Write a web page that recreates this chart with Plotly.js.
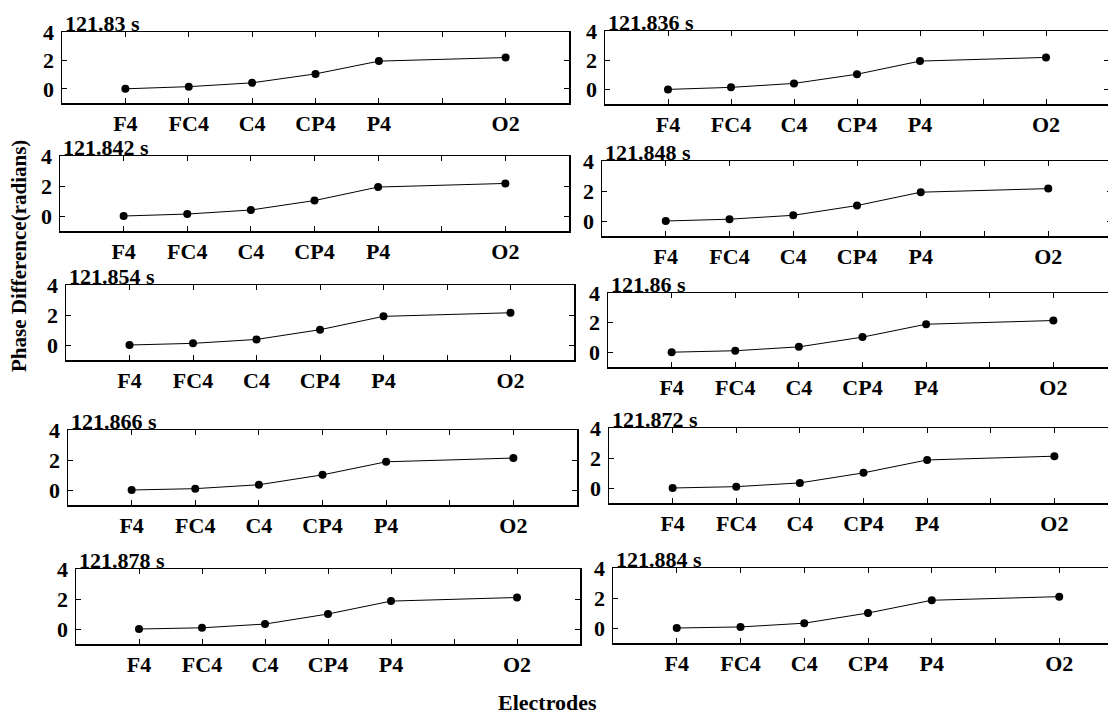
<!DOCTYPE html>
<html>
<head>
<meta charset="utf-8">
<script src="https://cdn.plot.ly/plotly-3.0.1.min.js"></script>
<style>
html,body{margin:0;padding:0;overflow:hidden;background:#fff;}
#chart{width:1130px;height:716px;}
</style>
</head>
<body>
<div id="chart"></div>
<script>
// ---- data ----
const electrodes = ["F4", "FC4", "C4", "CP4", "P4", "O2"];
const electrodePos = [1, 2, 3, 4, 5, 7];
const tickPositions = [1, 2, 3, 4, 5, 6, 7];
const tickLabels = ["F4", "FC4", "C4", "CP4", "P4", "", "O2"];
const yTickValues = [0, 2, 4];
const timeLabels = ["121.83 s", "121.836 s", "121.842 s", "121.848 s", "121.854 s",
                    "121.86 s", "121.866 s", "121.872 s", "121.878 s", "121.884 s"];
const phase_121830 = [0, 0.15, 0.42, 1.05, 1.95, 2.20];
const phase_121836 = [0, 0.14, 0.41, 1.04, 1.94, 2.19];
const phase_121842 = [0, 0.13, 0.40, 1.03, 1.93, 2.17];
const phase_121848 = [0, 0.12, 0.38, 1.03, 1.92, 2.16];
const phase_121854 = [0, 0.11, 0.37, 1.02, 1.91, 2.15];
const phase_121860 = [0, 0.10, 0.36, 1.02, 1.89, 2.14];
const phase_121866 = [0, 0.09, 0.35, 1.01, 1.88, 2.13];
const phase_121872 = [0, 0.09, 0.34, 1.01, 1.87, 2.12];
const phase_121878 = [0, 0.08, 0.33, 1.00, 1.86, 2.10];
const phase_121884 = [0, 0.07, 0.32, 1.00, 1.85, 2.09];
const series = [phase_121830, phase_121836, phase_121842, phase_121848, phase_121854,
                phase_121860, phase_121866, phase_121872, phase_121878, phase_121884];

// ---- layout (pixel boxes: left, right, top, bottom) ----
const W = 1130, H = 716;
const boxes = [
  [62, 569, 32, 103], [605, 1109, 31, 104],
  [60, 569, 156, 231], [602, 1112, 161, 236],
  [66, 574, 285, 360], [608, 1117, 293, 367],
  [68, 577, 430, 505], [609, 1118, 428, 503],
  [76, 580, 569, 644], [613, 1123, 568, 643]
];
const FONT = "Liberation Serif";

const traces = [];
const layout = {
  width: W, height: H,
  margin: {l: 0, r: 0, t: 0, b: 0},
  paper_bgcolor: "#fff", plot_bgcolor: "#fff",
  showlegend: false,
  font: {family: FONT, size: 22, color: "#000", weight: 700},
  annotations: []
};

series.forEach((vals, i) => {
  const n = i + 1;
  const xa = "x" + (n === 1 ? "" : n), ya = "y" + (n === 1 ? "" : n);
  traces.push({
    x: electrodePos, y: vals, text: electrodes, xaxis: xa, yaxis: ya,
    type: "scatter", mode: "lines+markers",
    line: {color: "#000", width: 1},
    marker: {color: "#000", size: 8},
    hoverinfo: "text+y"
  });
  const b = boxes[i];
  const axCommon = {
    showline: true, linecolor: "#000", linewidth: 1.5, mirror: "ticks",
    ticks: "inside", ticklen: 5, tickwidth: 1, tickcolor: "#000",
    showgrid: false, zeroline: false, fixedrange: true,
    tickfont: {family: FONT, size: 22, color: "#000", weight: 700}
  };
  layout["xaxis" + (n === 1 ? "" : n)] = Object.assign({}, axCommon, {
    domain: [b[0] / W, b[1] / W], anchor: ya,
    range: [0, 8], tickmode: "array", tickvals: tickPositions, ticktext: tickLabels,
    ticklabelstandoff: 0
  });
  layout["yaxis" + (n === 1 ? "" : n)] = Object.assign({}, axCommon, {
    domain: [1 - b[3] / H, 1 - b[2] / H], anchor: xa,
    range: [-1, 4], tickmode: "array", tickvals: yTickValues,
    ticktext: yTickValues.map(String), ticklabelstandoff: 2
  });
  layout.annotations.push({
    text: timeLabels[i], showarrow: false,
    xref: xa + " domain", yref: ya + " domain", x: 0, y: 1,
    xanchor: "left", yanchor: "bottom", xshift: 1, yshift: -6,
    font: {family: FONT, size: 22, color: "#000", weight: 700}
  });
});

layout.annotations.push({
  text: "Phase Difference(radians)", showarrow: false, textangle: -90,
  xref: "paper", yref: "paper", x: 19 / W, y: 1 - 256 / H,
  xanchor: "center", yanchor: "middle",
  font: {family: FONT, size: 21, color: "#000", weight: 700}
});
layout.annotations.push({
  text: "Electrodes", showarrow: false,
  xref: "paper", yref: "paper", x: 547 / W, y: 1 - 702 / H,
  xanchor: "center", yanchor: "middle",
  font: {family: FONT, size: 22, color: "#000", weight: 700}
});

Plotly.newPlot("chart", traces, layout, {displayModeBar: false, staticPlot: true});
</script>
</body>
</html>
